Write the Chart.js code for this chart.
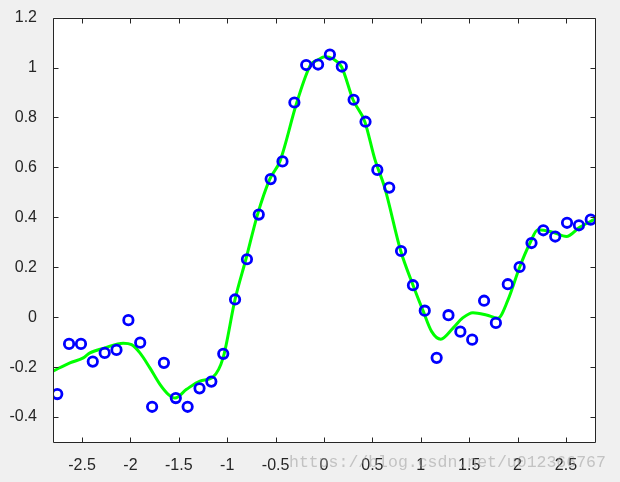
<!DOCTYPE html>
<html>
<head>
<meta charset="utf-8">
<script src="https://cdn.jsdelivr.net/npm/chart.js@4/dist/chart.umd.min.js"></script>
<style>
  html, body { margin: 0; padding: 0; background: #f0f0f0; }
  #chart { display: block; }
</style>
</head>
<body>
<canvas id="chart" width="620" height="482"></canvas>
<script>
// noisy samples (blue circles)
const sampleX = [
  -2.756, -2.634, -2.511, -2.389, -2.266, -2.144, -2.021, -1.899, -1.776, -1.654,
  -1.531, -1.409, -1.286, -1.164, -1.041, -0.919, -0.796, -0.674, -0.551, -0.429,
  -0.306, -0.184, -0.061, 0.061, 0.184, 0.306, 0.429, 0.551, 0.674, 0.796,
  0.919, 1.041, 1.164, 1.286, 1.409, 1.531, 1.654, 1.776, 1.899, 2.021,
  2.144, 2.266, 2.389, 2.511, 2.634, 2.756
];
const sampleY = [
  -0.308, -0.107, -0.107, -0.178, -0.143, -0.131, -0.012, -0.102, -0.359, -0.183,
  -0.324, -0.359, -0.285, -0.258, -0.147, 0.071, 0.232, 0.411, 0.553, 0.624,
  0.860, 1.010, 1.012, 1.052, 1.004, 0.871, 0.783, 0.590, 0.519, 0.265,
  0.128, 0.026, -0.163, 0.008, -0.058, -0.090, 0.066, -0.023, 0.132, 0.201,
  0.297, 0.348, 0.323, 0.378, 0.368, 0.391
];

// fitted curve (green line)
const fitX = [
  -2.800, -2.625, -2.487, -2.418, -2.263, -2.074, -1.988, -1.902, -1.799, -1.695,
  -1.609, -1.540, -1.420, -1.282, -1.145, -1.042, -0.918, -0.807, -0.687, -0.560,
  -0.456, -0.281, -0.139, -0.061, 0.008, 0.091, 0.181, 0.300, 0.421, 0.525,
  0.628, 0.793, 0.920, 1.023, 1.113, 1.206, 1.333, 1.433, 1.539, 1.678,
  1.797, 1.901, 2.022, 2.125, 2.210, 2.365, 2.504, 2.641, 2.800
];
const fitY = [
  -0.216, -0.183, -0.163, -0.143, -0.123, -0.104, -0.110, -0.143, -0.203, -0.269,
  -0.309, -0.324, -0.289, -0.256, -0.239, -0.162, 0.073, 0.232, 0.411, 0.553,
  0.624, 0.860, 1.010, 1.031, 1.043, 1.035, 1.003, 0.871, 0.784, 0.633,
  0.518, 0.265, 0.128, 0.026, -0.058, -0.088, -0.044, -0.003, 0.018, 0.009,
  -0.004, 0.069, 0.201, 0.294, 0.350, 0.340, 0.323, 0.360, 0.393
];

const xTicks = [-2.5, -2, -1.5, -1, -0.5, 0, 0.5, 1, 1.5, 2, 2.5];
const yTicks = [-0.4, -0.2, 0, 0.2, 0.4, 0.6, 0.8, 1, 1.2];

const axisColor = '#262626';
const tickFont = { family: '"Liberation Sans", Arial, sans-serif', size: 16 };

function fmt(v) {
    return String(Math.round(v * 10) / 10);
}

// white plot area, matlab style box with inward ticks, watermark
const matlabAxes = {
    id: 'matlabAxes',
    beforeDatasetsDraw(chart) {
        const { ctx, chartArea: a } = chart;
        ctx.save();
        ctx.fillStyle = '#ffffff';
        ctx.fillRect(a.left, a.top, a.right - a.left, a.bottom - a.top);
        ctx.restore();
    },
    afterDatasetsDraw(chart) {
        const { ctx, chartArea: a, scales } = chart;
        const L = Math.round(a.left) + 0.5, R = Math.round(a.right) + 0.5;
        const T = Math.round(a.top) + 0.5, B = Math.round(a.bottom) + 0.5;
        const len = 5;
        ctx.save();
        ctx.strokeStyle = axisColor;
        ctx.lineWidth = 1;
        ctx.beginPath();
        ctx.rect(L, T, R - L, B - T);
        xTicks.forEach(v => {
            const px = Math.round(scales.x.getPixelForValue(v)) + 0.5;
            ctx.moveTo(px, B); ctx.lineTo(px, B - len);
            ctx.moveTo(px, T); ctx.lineTo(px, T + len);
        });
        yTicks.forEach(v => {
            const py = Math.round(scales.y.getPixelForValue(v)) + 0.5;
            ctx.moveTo(L, py); ctx.lineTo(L + len, py);
            ctx.moveTo(R, py); ctx.lineTo(R - len, py);
        });
        ctx.stroke();
        ctx.restore();
    },
    afterDraw(chart) {
        const ctx = chart.ctx;
        ctx.save();
        ctx.font = '16.5px "Liberation Mono", monospace';
        ctx.fillStyle = 'rgba(150, 150, 150, 0.5)';
        ctx.textBaseline = 'alphabetic';
        ctx.fillText('https://blog.csdn.net/u012366767', 289, 467);
        ctx.restore();
    }
};

new Chart(document.getElementById('chart'), {
    type: 'scatter',
    data: {
        datasets: [
            {
                label: 'samples',
                data: sampleX.map((x, i) => ({ x: x, y: sampleY[i] })),
                pointStyle: 'circle',
                pointRadius: 4.7,
                pointBorderWidth: 2.8,
                borderColor: '#0000ff',
                backgroundColor: 'rgba(0,0,0,0)',
                showLine: false,
                order: 0
            },
            {
                label: 'fit',
                data: fitX.map((x, i) => ({ x: x, y: fitY[i] })),
                showLine: true,
                borderColor: '#00ff00',
                borderWidth: 3,
                pointRadius: 0,
                cubicInterpolationMode: 'monotone',
                fill: false,
                order: 1
            }
        ]
    },
    options: {
        responsive: false,
        animation: false,
        devicePixelRatio: 1,
        layout: { padding: { top: 15, right: 25, left: 0, bottom: 0 } },
        plugins: {
            legend: { display: false },
            tooltip: { enabled: false }
        },
        scales: {
            x: {
                type: 'linear',
                min: -2.8,
                max: 2.8,
                grid: { display: false },
                border: { display: false },
                afterBuildTicks: s => { s.ticks = xTicks.map(v => ({ value: v })); },
                afterFit: s => { s.height = 40; },
                ticks: {
                    padding: 6,
                    color: axisColor,
                    font: tickFont,
                    maxRotation: 0,
                    autoSkip: false,
                    callback: v => fmt(v)
                }
            },
            y: {
                type: 'linear',
                min: -0.5,
                max: 1.2,
                grid: { display: false },
                border: { display: false },
                afterBuildTicks: s => { s.ticks = yTicks.map(v => ({ value: v })); },
                afterFit: s => { s.width = 53; },
                ticks: {
                    padding: 8,
                    color: axisColor,
                    font: tickFont,
                    autoSkip: false,
                    callback: v => fmt(v)
                }
            }
        }
    },
    plugins: [matlabAxes]
});
</script>
</body>
</html>
